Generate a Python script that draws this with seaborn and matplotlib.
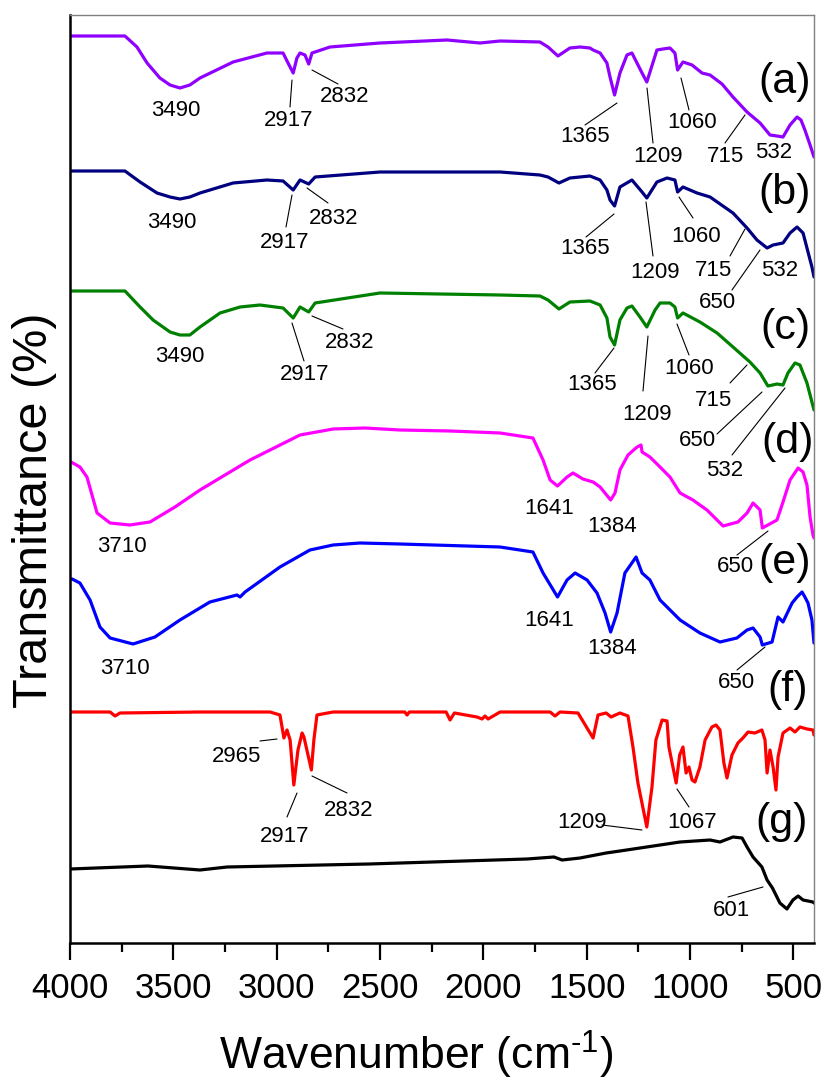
import matplotlib
matplotlib.use("Agg")
import matplotlib.pyplot as plt
from matplotlib.ticker import MultipleLocator
import seaborn as sns
import pandas as pd

# ---------------- data (wavenumber in cm-1, transmittance in arbitrary stacked units) -------------
wn_a = [4000, 3734, 3676, 3627, 3565, 3516, 3468, 3420, 3371, 3211, 3047, 2969, 2945, 2920, 2902, 2887, 2863,
        2845, 2829, 2742, 2500, 2176, 2016, 1919, 1726, 1687, 1639, 1581, 1532, 1484, 1469, 1435, 1402, 1387,
        1365, 1339, 1305, 1281, 1232, 1209, 1160, 1131, 1097, 1073, 1060, 1034, 990, 942, 903, 845, 792, 724,
        661, 613, 579, 550, 516, 482, 463, 444, 419, 400]
t_a = [907, 907, 896, 880, 865, 858, 855, 858, 865, 881, 890, 890, 880, 870, 885, 890, 888,
       879, 890, 896, 900, 903, 900, 902, 901, 896, 887, 895, 896, 895, 893, 890, 880, 866,
       848, 870, 888, 890, 870, 861, 893, 894, 895, 890, 873, 881, 878, 870, 868, 859, 846, 831,
       820, 808, 807, 806, 818, 826, 823, 813, 798, 786]

wn_b = [4000, 3734, 3661, 3579, 3516, 3468, 3420, 3371, 3211, 3047, 2969, 2920, 2887, 2845, 2814, 2500, 1919,
        1726, 1687, 1634, 1581, 1484, 1435, 1402, 1387, 1365, 1339, 1281, 1232, 1209, 1160, 1111, 1073, 1060,
        1034, 966, 903, 792, 724, 676, 627, 598, 550, 516, 482, 453, 410, 400]
t_b = [772, 772, 761, 750, 746, 744, 746, 750, 760, 763, 762, 753, 763, 759, 766, 771, 771,
       768, 766, 760, 765, 767, 763, 753, 743, 737, 756, 763, 751, 745, 761, 765, 763, 751,
       756, 750, 746, 730, 715, 703, 695, 698, 700, 710, 716, 710, 676, 666]

wn_c = [4000, 3734, 3661, 3598, 3516, 3468, 3420, 3371, 3274, 3177, 3081, 2969, 2920, 2887, 2845, 2814, 2500,
        1919, 1726, 1687, 1634, 1581, 1484, 1435, 1402, 1387, 1365, 1339, 1305, 1281, 1242, 1209, 1169, 1145,
        1097, 1073, 1060, 1034, 952, 869, 792, 710, 661, 623, 579, 550, 526, 492, 468, 434, 400]
t_c = [652, 652, 636, 623, 611, 608, 608, 616, 630, 636, 638, 635, 625, 636, 631, 640, 650,
       648, 647, 643, 634, 641, 642, 638, 625, 606, 598, 623, 635, 637, 626, 616, 633, 640,
       640, 636, 625, 630, 621, 610, 596, 581, 570, 557, 559, 558, 570, 580, 578, 560, 533]

wn_d = [4000, 3995, 3952, 3918, 3869, 3806, 3710, 3613, 3492, 3371, 3129, 2887, 2727, 2573, 2403, 2161, 1919,
        1760, 1711, 1677, 1641, 1595, 1566, 1518, 1469, 1435, 1384, 1363, 1339, 1300, 1256, 1237, 1232, 1194,
        1145, 1097, 1048, 986, 918, 840, 768, 724, 695, 661, 650, 579, 550, 516, 477, 453, 434, 419, 405, 400]
t_d = [481, 481, 476, 466, 430, 420, 418, 421, 436, 453, 483, 508, 514, 515, 513, 512, 510,
       505, 483, 463, 457, 466, 470, 464, 461, 456, 443, 450, 473, 488, 496, 498, 491, 486,
       476, 466, 450, 443, 433, 417, 421, 430, 440, 433, 415, 423, 441, 463, 475, 471, 458, 426, 408, 405]

wn_e = [4000, 3990, 3952, 3903, 3855, 3806, 3695, 3589, 3468, 3323, 3192, 3177, 3153, 2984, 2839, 2727, 2597,
        2403, 1919, 1760, 1711, 1641, 1595, 1556, 1498, 1450, 1411, 1384, 1353, 1315, 1261, 1232, 1194, 1145,
        1048, 952, 855, 773, 724, 695, 661, 650, 603, 574, 550, 506, 482, 458, 444, 429, 410, 400]
t_e = [364, 364, 360, 343, 316, 305, 299, 306, 323, 341, 348, 346, 351, 376, 393, 398, 400,
       399, 396, 391, 370, 346, 363, 370, 363, 350, 330, 311, 330, 370, 386, 370, 363, 343,
       323, 310, 301, 305, 313, 315, 306, 298, 301, 326, 321, 340, 346, 351, 346, 340, 323, 300]

wn_f = [4000, 3806, 3782, 3758, 3371, 3032, 2984, 2965, 2950, 2935, 2917, 2897, 2877, 2868, 2832, 2820, 2805,
        2727, 2380, 2369, 2358, 2180, 2161, 2140, 2031, 2006, 1992, 1977, 1919, 1677, 1653, 1629, 1542, 1469,
        1445, 1406, 1382, 1339, 1300, 1276, 1252, 1209, 1184, 1165, 1135, 1111, 1102, 1067, 1050, 1034, 1019,
        1005, 990, 976, 952, 927, 894, 874, 855, 836, 821, 797, 768, 744, 719, 686, 652, 637, 627, 613, 598,
        584, 574, 550, 516, 492, 468, 434, 405, 400]
t_f = [231, 231, 227, 230, 231, 231, 228, 205, 213, 203, 158, 193, 210, 206, 173, 203, 228,
       231, 231, 228, 231, 231, 223, 230, 226, 224, 227, 224, 231, 231, 227, 231, 230, 205,
       228, 230, 226, 230, 227, 196, 160, 116, 156, 203, 223, 222, 196, 160, 188, 196, 170,
       176, 163, 161, 176, 203, 216, 218, 213, 180, 165, 188, 200, 205, 211, 210, 213, 203, 170, 193, 176,
       153, 186, 210, 215, 211, 216, 214, 213, 208]

wn_g = [4000, 3623, 3371, 3240, 2553, 1789, 1658, 1619, 1532, 1406, 1339, 1048, 903, 855, 792, 748, 724,
        695, 652, 627, 601, 589, 565, 531, 502, 477, 453, 405, 400]
t_g = [74, 77, 73, 76, 79, 84, 86, 83, 85, 90, 92, 101, 103, 101, 106, 105, 96,
       86, 76, 63, 55, 50, 40, 34, 43, 47, 43, 41, 40]

series_names = ["(a)", "(b)", "(c)", "(d)", "(e)", "(f)", "(g)"]
series_wn = [wn_a, wn_b, wn_c, wn_d, wn_e, wn_f, wn_g]
series_t = [t_a, t_b, t_c, t_d, t_e, t_f, t_g]
series_colors = ["#8f00ff", "#000080", "#008000", "#ff00ff", "#0000ff", "#ff0000", "#000000"]

# peak labels: text, text position, leader line start, leader line end (reference pixel coords)
peak_labels = [
    ("3490", (176, 110), None, None),
    ("2917", (289, 121), (292, 80), (290, 107)),
    ("2832", (345, 97), (312, 70), (338, 84)),
    ("1365", (585, 137), (617, 103), (585, 125)),
    ("1209", (658, 156), (647, 88), (653, 143)),
    ("1060", (692, 123), (681, 78), (689, 110)),
    ("715", (726, 157), (745, 115), (725, 143)),
    ("532", (774, 152), None, None),
    ("3490", (172, 222), None, None),
    ("2917", (285, 243), (292, 195), (286, 227)),
    ("2832", (334, 218), (307, 188), (328, 203)),
    ("1365", (585, 248), (614, 214), (586, 237)),
    ("1209", (655, 272), (646, 202), (653, 256)),
    ("1060", (696, 237), (679, 197), (693, 218)),
    ("715", (713, 270), (745, 229), (730, 256)),
    ("532", (780, 271), None, None),
    ("650", (717, 303), (760, 250), (732, 290)),
    ("3490", (180, 356), None, None),
    ("2917", (305, 374), (292, 323), (304, 361)),
    ("2832", (350, 342), (312, 316), (343, 329)),
    ("1365", (592, 385), (614, 348), (595, 373)),
    ("1209", (647, 415), (648, 336), (643, 391)),
    ("1060", (689, 368), (677, 324), (689, 355)),
    ("715", (714, 400), (747, 365), (730, 383)),
    ("650", (697, 441), (762, 392), (717, 434)),
    ("532", (725, 471), (785, 388), (732, 455)),
    ("3710", (122, 547), None, None),
    ("1641", (549, 508), None, None),
    ("1384", (612, 526), None, None),
    ("650", (735, 567), (768, 531), (737, 555)),
    ("3710", (125, 669), None, None),
    ("1641", (549, 620), None, None),
    ("1384", (612, 648), None, None),
    ("650", (736, 683), (765, 647), (737, 670)),
    ("2965", (237, 757), (260, 741), (277, 739)),
    ("2917", (285, 837), (297, 793), (287, 817)),
    ("2832", (349, 810), (312, 776), (347, 793)),
    ("1209", (582, 823), (602, 825), (642, 830)),
    ("1067", (692, 822), (677, 789), (689, 807)),
    ("601", (732, 910), (728, 897), (763, 887)),
]
series_label_pos = [(785, 82), (785, 193), (785, 328), (788, 442), (785, 563), (788, 690), (782, 822)]


def ref(xp, yp):
    """map a reference-image pixel position to data coordinates"""
    return 4000 - (xp - 70) * 3600.0 / 744.0, 943 - yp


# ---------------- figure ----------------
sns.set_theme(style="ticks")
plt.rcParams["font.family"] = ["Liberation Sans", "DejaVu Sans"]
plt.rcParams["mathtext.fontset"] = "custom"
plt.rcParams["mathtext.rm"] = "Liberation Sans"
plt.rcParams["mathtext.it"] = "Liberation Sans"

fig = plt.figure(figsize=(8.27, 10.90), dpi=100)
ax = fig.add_axes([70 / 827, 1 - 943 / 1090, (814 - 70) / 827, (943 - 15) / 1090])

frames = []
for name, w, t in zip(series_names, series_wn, series_t):
    frames.append(pd.DataFrame({"wn": w, "T": t, "sample": name}))
df = pd.concat(frames, ignore_index=True)

sns.lineplot(data=df, x="wn", y="T", hue="sample", palette=dict(zip(series_names, series_colors)),
             estimator=None, sort=False, lw=2.3, legend=False, ax=ax)

ax.set_xlabel("")
ax.set_ylabel("")
ax.set_xlim(4000, 400)
ax.set_ylim(0, 928)
ax.set_yticks([])
ax.xaxis.set_major_locator(MultipleLocator(500))
ax.xaxis.set_minor_locator(MultipleLocator(250))
ax.tick_params(axis="x", which="major", direction="out", length=12, width=1.6, labelsize=25, pad=9,
               color="black", labelcolor="black")
ax.tick_params(axis="x", which="minor", direction="out", length=6.5, width=1.6, color="black")
for s in ["left", "bottom"]:
    ax.spines[s].set_linewidth(1.8)
    ax.spines[s].set_color("black")
for s in ["top", "right"]:
    ax.spines[s].set_linewidth(1.0)
    ax.spines[s].set_color("#808080")

for text, tpos, l0, l1 in peak_labels:
    ax.text(*ref(*tpos), text, fontsize=16, ha="center", va="center", color="black")
    if l0 is not None:
        (x0, y0), (x1, y1) = ref(*l0), ref(*l1)
        ax.plot([x0, x1], [y0, y1], color="black", lw=0.8)

for name, pos in zip(series_names, series_label_pos):
    ax.text(*ref(*pos), name, fontsize=31, ha="center", va="center", color="black")

fig.text(35 / 827, 1 - 510 / 1090, "Transmittance (%)", rotation=90, fontsize=35,
         ha="center", va="center", color="black")
fig.text(416 / 827, 1 - 1055 / 1090, "Wavenumber (cm$^{\\text{-1}}$)", fontsize=32,
         ha="center", va="center", color="black")

fig.savefig("out.png", dpi=100)
